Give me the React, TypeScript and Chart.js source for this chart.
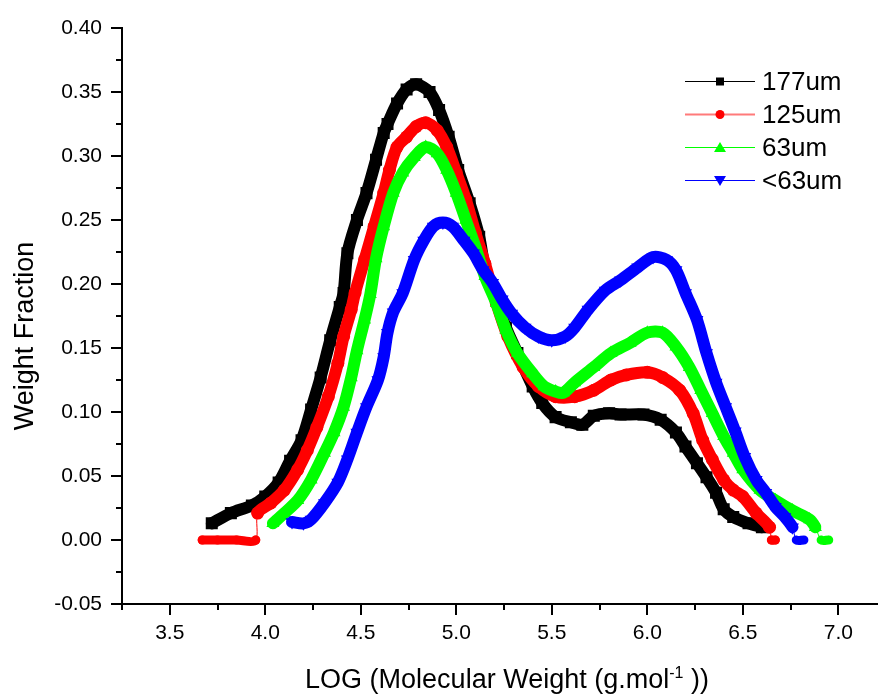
import React, { useEffect, useRef } from 'react';
import { Chart, registerables } from 'chart.js';

Chart.register(...registerables);

const FONT = '"Liberation Sans", Arial, Helvetica, sans-serif';

// ---- Data ----
const seriesNames = ['177um', '125um', '63um', '<63um'];
const seriesColors = ['#000000', '#ff0000', '#00ff00', '#0000ff'];

const x177 = [3.72, 3.82, 3.93, 4.00, 4.07, 4.13, 4.19, 4.24, 4.29, 4.34, 4.39, 4.41, 4.43, 4.48, 4.53, 4.58, 4.62, 4.64, 4.69, 4.74, 4.79, 4.86, 4.91, 4.96, 5.01, 5.07, 5.12, 5.15, 5.21, 5.26, 5.32, 5.40, 5.45, 5.52, 5.60, 5.66, 5.72, 5.80, 5.86, 5.98, 6.07, 6.15, 6.20, 6.26, 6.31, 6.36, 6.40, 6.45, 6.53, 6.60];
const y177 = [0.013, 0.021, 0.027, 0.034, 0.045, 0.062, 0.078, 0.102, 0.127, 0.156, 0.182, 0.193, 0.224, 0.250, 0.271, 0.297, 0.318, 0.325, 0.341, 0.352, 0.356, 0.350, 0.336, 0.315, 0.289, 0.263, 0.237, 0.213, 0.188, 0.166, 0.146, 0.120, 0.107, 0.096, 0.092, 0.090, 0.097, 0.099, 0.098, 0.098, 0.094, 0.084, 0.073, 0.060, 0.049, 0.037, 0.024, 0.018, 0.013, 0.010];

const x125 = [3.67, 3.75, 3.85, 3.95, 3.96, 4.03, 4.10, 4.17, 4.22, 4.27, 4.33, 4.38, 4.41, 4.45, 4.47, 4.52, 4.57, 4.62, 4.65, 4.69, 4.74, 4.79, 4.84, 4.90, 4.95, 5.00, 5.05, 5.10, 5.15, 5.21, 5.27, 5.35, 5.43, 5.52, 5.62, 5.72, 5.81, 5.89, 6.00, 6.08, 6.17, 6.24, 6.29, 6.34, 6.40, 6.45, 6.50, 6.57, 6.64, 6.65, 6.67];
const y125 = [0, 0, 0, 0, 0.021, 0.029, 0.039, 0.055, 0.070, 0.088, 0.112, 0.138, 0.159, 0.180, 0.193, 0.219, 0.245, 0.271, 0.289, 0.307, 0.315, 0.323, 0.326, 0.320, 0.307, 0.287, 0.266, 0.240, 0.216, 0.185, 0.159, 0.135, 0.120, 0.112, 0.112, 0.117, 0.125, 0.129, 0.131, 0.127, 0.117, 0.099, 0.078, 0.063, 0.047, 0.039, 0.034, 0.021, 0.010, 0, 0];

const x63 = [4.04, 4.10, 4.17, 4.24, 4.31, 4.36, 4.41, 4.45, 4.48, 4.52, 4.55, 4.58, 4.62, 4.67, 4.72, 4.78, 4.84, 4.90, 4.95, 5.00, 5.05, 5.10, 5.15, 5.21, 5.26, 5.32, 5.40, 5.46, 5.52, 5.56, 5.62, 5.72, 5.81, 5.91, 6.00, 6.08, 6.15, 6.22, 6.28, 6.34, 6.40, 6.45, 6.50, 6.59, 6.67, 6.76, 6.85, 6.88, 6.91, 6.95];
const y63 = [0.013, 0.021, 0.031, 0.047, 0.068, 0.084, 0.104, 0.127, 0.148, 0.172, 0.192, 0.220, 0.245, 0.271, 0.287, 0.299, 0.307, 0.302, 0.289, 0.271, 0.250, 0.229, 0.206, 0.185, 0.164, 0.146, 0.130, 0.120, 0.116, 0.115, 0.123, 0.135, 0.146, 0.154, 0.162, 0.162, 0.151, 0.135, 0.117, 0.099, 0.081, 0.068, 0.055, 0.039, 0.031, 0.023, 0.016, 0.010, 0, 0];

const xLt63 = [4.14, 4.20, 4.24, 4.31, 4.38, 4.43, 4.48, 4.53, 4.59, 4.62, 4.64, 4.67, 4.72, 4.78, 4.83, 4.88, 4.93, 4.98, 5.04, 5.09, 5.14, 5.19, 5.24, 5.29, 5.36, 5.43, 5.50, 5.57, 5.62, 5.69, 5.78, 5.86, 5.95, 6.03, 6.10, 6.15, 6.20, 6.26, 6.31, 6.36, 6.41, 6.46, 6.51, 6.57, 6.62, 6.67, 6.72, 6.76, 6.78, 6.82];
const yLt63 = [0.014, 0.013, 0.016, 0.029, 0.045, 0.063, 0.084, 0.104, 0.125, 0.143, 0.162, 0.178, 0.193, 0.219, 0.234, 0.245, 0.248, 0.245, 0.234, 0.224, 0.211, 0.201, 0.188, 0.177, 0.166, 0.159, 0.156, 0.159, 0.166, 0.180, 0.195, 0.203, 0.213, 0.221, 0.219, 0.211, 0.193, 0.172, 0.146, 0.123, 0.104, 0.085, 0.065, 0.047, 0.037, 0.026, 0.018, 0.010, 0, 0];

// axis ticks
const xMajorStep = 0.5;
const yMajorStep = 0.05;
const xMinorTicks = [3.25, 3.75, 4.25, 4.75, 5.25, 5.75, 6.25, 6.75];
const yMinorTicks = [-0.025, 0.025, 0.075, 0.125, 0.175, 0.225, 0.275, 0.325, 0.375];

const xTitleMain = 'LOG (Molecular Weight (g.mol';
const xTitleSup = '-1';
const xTitleEnd = ' ))';
const yTitle = 'Weight Fraction';

const pts = (xs: number[], ys: number[]) => xs.map((x, i) => ({ x, y: ys[i] }));

const segWidth = (base: number) => (ctx: any) => {
  const a = ctx.p0.parsed.y;
  const b = ctx.p1.parsed.y;
  if (a === 0 && b === 0) return 9;
  if (a === 0 || b === 0) return 1;
  return base;
};

function drawMarker(ctx: CanvasRenderingContext2D, style: string, x: number, y: number, s: number) {
  ctx.beginPath();
  if (style === 'rect') {
    ctx.rect(x - s / 2, y - s / 2, s, s);
  } else if (style === 'circle') {
    ctx.arc(x, y, s / 2, 0, Math.PI * 2);
  } else if (style === 'up') {
    ctx.moveTo(x, y - s * 0.55);
    ctx.lineTo(x + s * 0.6, y + s * 0.45);
    ctx.lineTo(x - s * 0.6, y + s * 0.45);
    ctx.closePath();
  } else {
    ctx.moveTo(x, y + s * 0.55);
    ctx.lineTo(x + s * 0.6, y - s * 0.45);
    ctx.lineTo(x - s * 0.6, y - s * 0.45);
    ctx.closePath();
  }
  ctx.fill();
}

const legendStyles = ['rect', 'circle', 'up', 'down'];
const legendLineColors = ['#000000', '#ff7a7a', '#00ff00', '#0000ff'];

const decor = {
  id: 'decor',
  afterDraw(chart: any) {
    const ctx: CanvasRenderingContext2D = chart.ctx;
    const xs = chart.scales.x;
    const ys = chart.scales.y;
    const area = chart.chartArea;
    ctx.save();
    ctx.strokeStyle = '#000';
    ctx.lineWidth = 2;
    for (const v of xMinorTicks) {
      const px = Math.round(xs.getPixelForValue(v));
      ctx.beginPath();
      ctx.moveTo(px, area.bottom);
      ctx.lineTo(px, area.bottom + 6);
      ctx.stroke();
    }
    for (const v of yMinorTicks) {
      const py = Math.round(ys.getPixelForValue(v));
      ctx.beginPath();
      ctx.moveTo(area.left, py);
      ctx.lineTo(area.left - 6, py);
      ctx.stroke();
    }

    // axis titles
    ctx.fillStyle = '#000';
    ctx.textBaseline = 'alphabetic';
    ctx.textAlign = 'left';
    const bigFont = `27px ${FONT}`;
    const supFont = `16px ${FONT}`;
    ctx.font = bigFont;
    const w1 = ctx.measureText(xTitleMain).width;
    const w3 = ctx.measureText(xTitleEnd).width;
    ctx.font = supFont;
    const w2 = ctx.measureText(xTitleSup).width;
    const total = w1 + w2 + w3;
    let tx = 507 - total / 2;
    const base = 688;
    ctx.font = bigFont;
    ctx.fillText(xTitleMain, tx, base);
    tx += w1;
    ctx.font = supFont;
    ctx.fillText(xTitleSup, tx, base - 10);
    tx += w2;
    ctx.font = bigFont;
    ctx.fillText(xTitleEnd, tx, base);

    ctx.save();
    ctx.translate(33, 336);
    ctx.rotate(-Math.PI / 2);
    ctx.textAlign = 'center';
    ctx.font = bigFont;
    ctx.fillText(yTitle, 0, 0);
    ctx.restore();

    // legend
    const legFont = `26px ${FONT}`;
    for (let i = 0; i < seriesNames.length; i++) {
      const ry = 81 + 33 * i;
      ctx.strokeStyle = legendLineColors[i];
      ctx.lineWidth = i === 1 ? 2 : 1;
      ctx.beginPath();
      ctx.moveTo(685, ry + 0.5);
      ctx.lineTo(755, ry + 0.5);
      ctx.stroke();
      ctx.fillStyle = seriesColors[i];
      drawMarker(ctx, legendStyles[i], 720, ry + 0.5, i === 0 ? 8 : i === 1 ? 9 : 10);
      ctx.fillStyle = '#000';
      ctx.font = legFont;
      ctx.textAlign = 'left';
      ctx.fillText(seriesNames[i], 762, ry + 8.5);
    }
    ctx.restore();
  },
};

export default function App() {
  const ref = useRef<HTMLCanvasElement>(null);
  useEffect(() => {
    document.body.style.margin = '0';
    const canvas = ref.current!;
    Chart.defaults.font.family = FONT;
    const mkSet = (i: number, xs: number[], ys: number[], style: string, radius: number, rot: number, order: number) => ({
      label: seriesNames[i],
      data: pts(xs, ys),
      showLine: true,
      borderColor: seriesColors[i],
      backgroundColor: seriesColors[i],
      borderWidth: 12,
      borderJoinStyle: 'round',
      borderCapStyle: 'round',
      pointStyle: style,
      pointRadius: (c: any) => (c.raw && c.raw.y === 0 ? Math.min(radius, 4.6) : radius),
      pointRotation: rot,
      pointBorderWidth: 0,
      pointBackgroundColor: seriesColors[i],
      pointHoverRadius: radius,
      tension: 0.3,
      order,
      segment: { borderWidth: segWidth(12) },
    });
    const chart = new Chart(canvas, {
      type: 'scatter',
      data: {
        datasets: [
          mkSet(0, x177, y177, 'rect', 8.5, 0, 4),
          mkSet(1, x125, y125, 'circle', 6.5, 0, 3),
          mkSet(2, x63, y63, 'triangle', 7.5, 0, 2),
          mkSet(3, xLt63, yLt63, 'triangle', 7.5, 180, 1),
        ] as any,
      },
      options: {
        responsive: false,
        animation: false,
        devicePixelRatio: 1,
        events: [],
        layout: { padding: { top: 28, right: 0, left: 0, bottom: 0 } },
        plugins: { legend: { display: false }, tooltip: { enabled: false }, title: { display: false } },
        scales: {
          x: {
            type: 'linear',
            min: 3.25,
            max: 7.2,
            afterFit: (s: any) => { s.height = 91; },
            grid: { display: true, drawOnChartArea: false, drawTicks: true, tickLength: 11, tickWidth: 2, tickColor: '#000', color: '#000', lineWidth: 2 },
            border: { display: true, color: '#000', width: 2 },
            ticks: {
              stepSize: xMajorStep,
              includeBounds: false,
              color: '#000',
              padding: 6,
              maxRotation: 0,
              autoSkip: false,
              font: { size: 21, family: FONT },
              callback: (v: any) => Number(v).toFixed(1),
            },
          },
          y: {
            type: 'linear',
            min: -0.05,
            max: 0.4,
            afterFit: (s: any) => { s.width = 122; },
            grid: { display: true, drawOnChartArea: false, drawTicks: true, tickLength: 11, tickWidth: 2, tickColor: '#000', color: '#000', lineWidth: 2 },
            border: { display: true, color: '#000', width: 2 },
            ticks: {
              stepSize: yMajorStep,
              includeBounds: false,
              color: '#000',
              padding: 9,
              autoSkip: false,
              font: { size: 21, family: FONT },
              callback: (v: any) => Number(v).toFixed(2),
            },
          },
        },
      } as any,
      plugins: [decor],
    });
    return () => chart.destroy();
  }, []);
  return (
    <canvas
      ref={ref}
      width={885}
      height={695}
      style={{ display: 'block', position: 'absolute', left: 0, top: 0, width: 885, height: 695 }}
    />
  );
}
